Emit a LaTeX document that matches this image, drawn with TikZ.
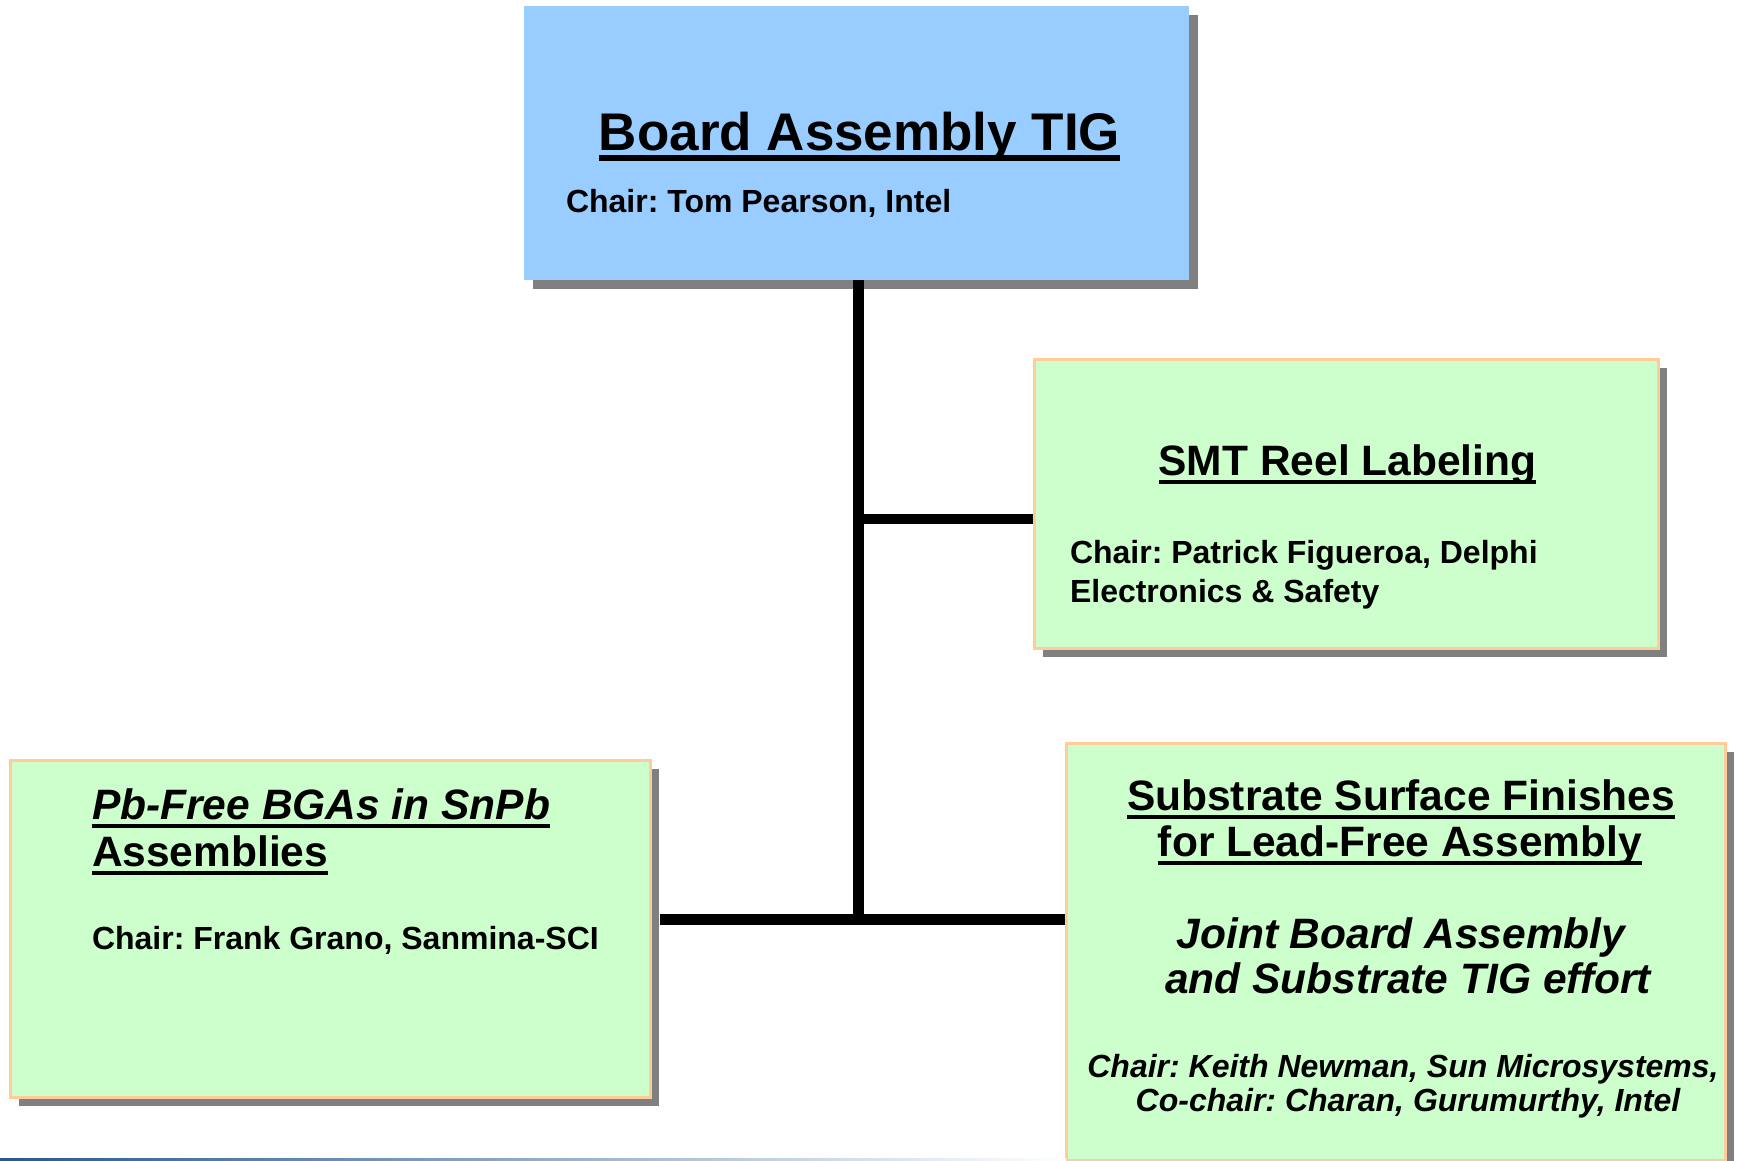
\documentclass[tikz,border=0pt]{standalone}
\usepackage{fontspec}
\setmainfont{Liberation Sans}
\usetikzlibrary{shadows}
\definecolor{topblue}{HTML}{99CCFF}
\definecolor{boxgreen}{HTML}{CCFFCC}
\definecolor{peach}{HTML}{FFCC99}
\definecolor{shadowgray}{HTML}{808080}
\definecolor{barblue}{HTML}{1F5A9A}
\begin{document}
\frenchspacing
\begin{tikzpicture}[x=1pt,y=-1pt,
  tbox/.style={rectangle, inner sep=0pt, outer sep=0pt, anchor=north west,
    drop shadow={shadow xshift=9pt, shadow yshift=-9pt, fill=shadowgray, opacity=1}},
  bluebox/.style={tbox, fill=topblue},
  greenbox/.style={tbox, fill=boxgreen, draw=peach, line width=3pt},
  conn/.style={line width=10.5pt, black},
  txt/.style={inner sep=0pt, outer sep=0pt, anchor=base, text=black},
  txtl/.style={txt, anchor=base west},
  bigttl/.style={txt, font=\fontsize{53}{60}\selectfont\bfseries},
  ttl/.style={txt, font=\fontsize{42.5}{48}\selectfont\bfseries},
  ttll/.style={txtl, font=\fontsize{42.5}{48}\selectfont\bfseries},
  ittl/.style={txt, font=\fontsize{42.5}{48}\selectfont\bfseries\itshape},
  ittll/.style={txtl, font=\fontsize{42.5}{48}\selectfont\bfseries\itshape},
  chairl/.style={txtl, font=\fontsize{32}{38}\selectfont\bfseries},
  ichair/.style={txt, font=\fontsize{32}{37}\selectfont\bfseries\itshape},
  ulbig/.style={line width=6pt, black},
  ul/.style={line width=4.5pt, black}
]
\useasboundingbox (0,0) rectangle (1737,1161);
\fill[white] (0,0) rectangle (1737,1161);

% boxes
\node[bluebox, minimum width=665pt, minimum height=274pt] (top) at (524,6) {};
\node[greenbox, minimum width=624pt, minimum height=289pt] (smt) at (1034,359) {};
\node[greenbox, minimum width=640pt, minimum height=337pt] (lb) at (10,760) {};
\node[greenbox, minimum width=659pt, minimum height=417pt] (rb) at (1066,743) {};

% bottom bar
\shade[left color=barblue, right color=white] (0,1158) rectangle (1066,1161);

% connectors
\coordinate (j1) at (858.5,519);
\coordinate (j2) at (858.5,919.5);
\coordinate (lbe) at ([xshift=10pt]lb.east);
\coordinate (smtw) at ([xshift=-1.5pt]smt.west);
\coordinate (rbw) at ([xshift=-1.5pt]rb.west);
\draw[conn] (j2 |- top.south) -- (j2);
\draw[conn] (j1) -- (smtw |- j1);
\draw[conn] (lbe |- j2) -- (rbw |- j2);

% top box texts
\node[bigttl] (t0) at (859.6,151) {Board Assembly TIG};
\draw[ulbig] ([yshift=-7.3pt]t0.base west) -- ([yshift=-7.3pt]t0.base east);
\node[chairl] (t0c) at (566,212) {Chair: Tom Pearson, Intel};

% SMT box texts
\node[ttl] (t1) at (1347.5,475) {SMT Reel Labeling};
\draw[ul] ([yshift=-6.8pt]t1.base west) -- ([yshift=-6.8pt]t1.base east);
\node[chairl] (t1c1) at (1070,563) {Chair: Patrick Figueroa, Delphi};
\node[chairl] (t1c2) at (1070,602) {Electronics \& Safety};

% left box texts
\node[ittll] (t2a) at (92,819) {Pb-Free BGAs in SnPb};
\draw[ul] ([yshift=-7pt]t2a.base west) -- ([yshift=-7pt]t2a.base east);
\node[ttll] (t2b) at (92,866) {Assemblies};
\draw[ul] ([yshift=-7pt]t2b.base west) -- ([yshift=-7pt]t2b.base east);
\node[chairl] (t2c) at (92,949) {Chair: Frank Grano, Sanmina-SCI};

% right box texts
\node[ttl] (t3a) at (1401,810) {Substrate Surface Finishes};
\draw[ul] ([yshift=-6.8pt]t3a.base west) -- ([yshift=-6.8pt]t3a.base east);
\node[ttl] (t3b) at (1400,856) {for Lead-Free Assembly};
\draw[ul] ([yshift=-6.8pt]t3b.base west) -- ([yshift=-6.8pt]t3b.base east);
\node[ittl] (t3c) at (1401,948) {Joint Board Assembly};
\node[ittl] (t3d) at (1408,993) {and Substrate TIG effort};
\node[ichair] (t3e) at (1403,1077) {Chair: Keith Newman, Sun Microsystems,};
\node[ichair] (t3f) at (1408,1111) {Co-chair: Charan, Gurumurthy, Intel};
\end{tikzpicture}
\end{document}
